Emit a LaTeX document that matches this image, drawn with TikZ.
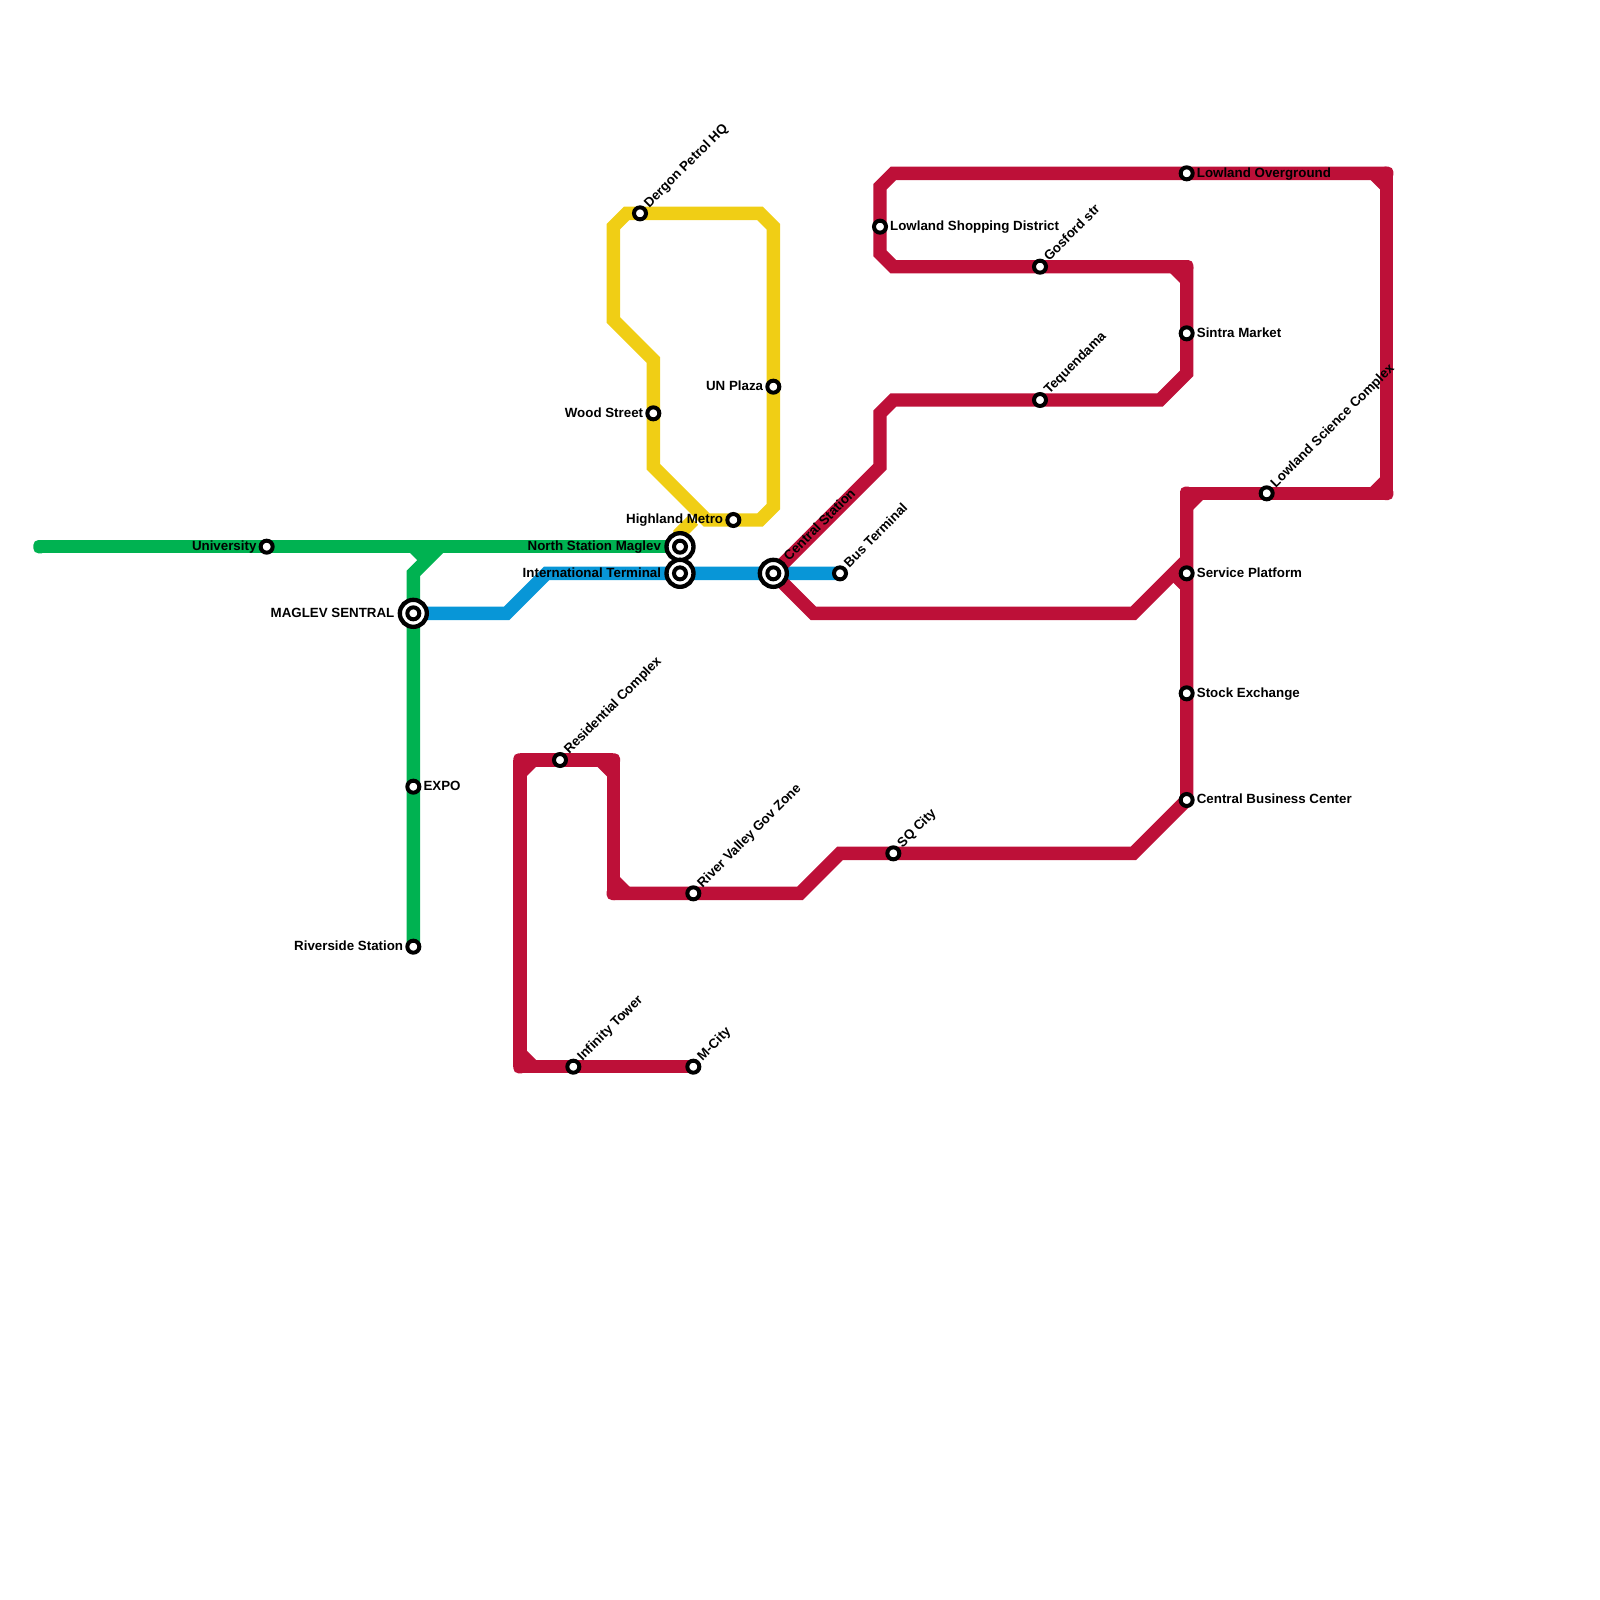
\documentclass[tikz,border=0pt]{standalone}
\usepackage{fontspec}
\setmainfont{Liberation Sans}
\usetikzlibrary{backgrounds}
\definecolor{LineRed}{HTML}{BD1038}
\definecolor{LineBlue}{HTML}{0896D7}
\definecolor{LineGreen}{HTML}{00B251}
\definecolor{LineYellow}{HTML}{F0CE15}

\tikzset{
    rail/.style={line width=0.4cm, line join=miter},
    stn/.style={circle, draw=black, fill=white, line width=0.12cm, minimum size=0.36cm, inner sep=0pt, outer sep=0pt},
    hub/.style={stn, line width=0.13cm, minimum size=0.81cm},
    lbl/.style={font=\fontsize{11.38pt}{13pt}\selectfont\bfseries, text=black, text height=6.5pt, text depth=0pt, inner ysep=0pt, inner xsep=8.5pt},
    lblR/.style={lbl, anchor=west},
    lblL/.style={lbl, anchor=east},
    lblUp/.style={lbl, shift={(-0.2pt,1pt)}, anchor=west, rotate=45, inner xsep=8pt}
}

\begin{document}
\begin{tikzpicture}[
    x=0.4cm, y=-0.4cm
 ]
\useasboundingbox (0,0) rectangle (120,120);
\def\cornerR{0.15cm}

% stations
\foreach \name/\x/\y in {
    university/20/41, expo/31/59, riverside/31/71,
    dergon/48/16, unplaza/58/29, woodst/49/31, highland/55/39,
    busterm/63/43,
    residential/42/57, rivervalley/52/67, sqcity/67/64, infinity/43/80, mcity/52/80,
    shopping/66/17, gosford/78/20, tequendama/78/30,
    overground/89/13, sintra/89/25, service/89/43, stockex/89/52, cbc/89/60,
    science/95/37
} {
    \node[stn] (\name) at (\x,\y) {};
}
\foreach \name/\x/\y in {maglev/31/46, northst/51/41, intl/51/43, central/58/43} {
    \node[hub] (\name) at (\x,\y) {};
    \node[stn] (\name In) at (\name) {};
}

% rails
\begin{pgfonlayer}{background}
    \draw[rail, LineGreen] (3,41) -- (university.center) -- (northst.center);
    \draw[rail, LineGreen] (riverside.center) -- (expo.center) -- (maglev.center) -- (31,43) -- (33,41);
    \draw[rail, LineGreen] (31,41) -- (32,42);
    \fill[LineGreen, rounded corners=\cornerR] (2.5,40.5) rectangle (3.5,41.5);

    \draw[rail, LineYellow] (dergon.center) -- (57,16) -- (58,17) -- (unplaza.center) -- (58,38) -- (57,39)
        -- (highland.center) -- (53,39) -- (49,35) -- (woodst.center) -- (49,27) -- (46,24) -- (46,17) -- (47,16) -- cycle;
    \draw[rail, LineYellow] (52,39) -- (51,40) -- (northst.center);

    \draw[rail, LineBlue] (maglev.center) -- (38,46) -- (41,43) -- (intl.center) -- (central.center) -- (busterm.center);

    % main line, one piece between square corners
    \draw[rail, LineRed] (central.center) -- (66,35) -- (66,31) -- (67,30) -- (tequendama.center) -- (87,30)
        -- (89,28) -- (sintra.center) -- (89,20);
    \draw[rail, LineRed] (89,20) -- (gosford.center) -- (67,20) -- (66,19) -- (shopping.center)
        -- (66,14) -- (67,13) -- (overground.center) -- (104,13);
    \draw[rail, LineRed] (104,13) -- (104,37);
    \draw[rail, LineRed] (104,37) -- (science.center) -- (89,37);
    \draw[rail, LineRed] (89,37) -- (service.center) -- (stockex.center) -- (cbc.center) -- (85,64)
        -- (sqcity.center) -- (63,64) -- (60,67) -- (rivervalley.center) -- (46,67);
    \draw[rail, LineRed] (46,67) -- (46,57);
    \draw[rail, LineRed] (46,57) -- (residential.center) -- (39,57);
    \draw[rail, LineRed] (39,57) -- (39,80);
    \draw[rail, LineRed] (39,80) -- (infinity.center) -- (mcity.center);
    \draw[rail, LineRed] (central.center) -- (61,46) -- (85,46) -- (89,42);
    \draw[rail, LineRed] (88,43) -- (89,44);

    % cut corners
    \draw[rail, LineRed] (88,20) -- (89,21);
    \draw[rail, LineRed] (103,13) -- (104,14);
    \draw[rail, LineRed] (103,37) -- (104,36);
    \draw[rail, LineRed] (89,38) -- (90,37);
    \draw[rail, LineRed] (39,58) -- (40,57);
    \draw[rail, LineRed] (45,57) -- (46,58);
    \draw[rail, LineRed] (46,66) -- (47,67);
    \draw[rail, LineRed] (39,79) -- (40,80);
    \foreach \x/\y in {89/20,104/13,104/37,89/37,39/57,46/57,46/67,39/80} {
        \fill[LineRed, rounded corners=\cornerR] (\x-0.5,\y-0.5) rectangle (\x+0.5,\y+0.5);
    }
\end{pgfonlayer}

% labels
\foreach \name/\txt in {
    expo/EXPO, shopping/Lowland Shopping District, overground/Lowland Overground,
    sintra/Sintra Market, service/Service Platform, stockex/Stock Exchange, cbc/Central Business Center
} {
    \node[lblR] (\name L) at (\name) {\txt};
}
\foreach \name/\txt in {
    university/University, riverside/Riverside Station, unplaza/UN Plaza,
    woodst/Wood Street, highland/Highland Metro
} {
    \node[lblL] (\name L) at (\name) {\txt};
}
\foreach \name/\txt in {maglev/MAGLEV SENTRAL, northst/North Station Maglev, intl/International Terminal} {
    \node[lblL, inner xsep=16pt] (\name L) at (\name) {\txt};
}
\foreach \name/\txt in {
    dergon/Dergon Petrol HQ, gosford/Gosford str, tequendama/Tequendama, science/Lowland Science Complex,
    residential/Residential Complex, rivervalley/River Valley Gov Zone, sqcity/SQ City,
    infinity/Infinity Tower, mcity/M-City, busterm/Bus Terminal
} {
    \node[lblUp] (\name L) at (\name) {\txt};
}
\node[lblUp, inner xsep=16pt] (centralL) at (central) {Central Station};

\end{tikzpicture}
\end{document}
